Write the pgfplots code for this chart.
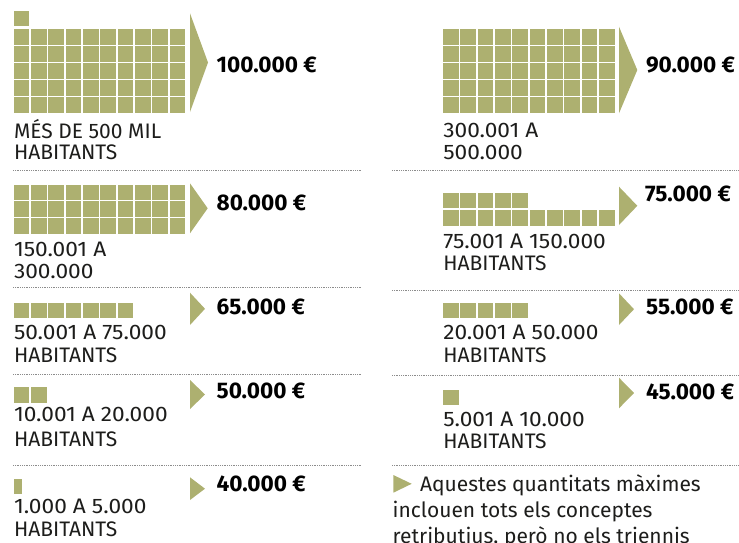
\documentclass[border=0pt]{standalone}
\usepackage{pgfplots}
\pgfplotsset{compat=1.18}
\usepackage{fontspec}
\setmainfont{Fira Sans}
\newfontfamily\widefont[FakeStretch=1.08]{Fira Sans}
\definecolor{olv}{RGB}{173,176,112}
\definecolor{txt}{RGB}{29,29,27}
\definecolor{sep}{RGB}{140,140,140}
\newcommand\lab{\fontsize{21}{25}\selectfont\color{txt}}
\newcommand\labn{\widefont\fontsize{21}{25}\selectfont\color{txt}}
\newcommand\val{\fontsize{22.6}{27}\selectfont\bfseries\color{black}}
\newcommand\foot{\fontsize{21}{26}\selectfont\color{txt}}
\tikzset{lb/.style={inner sep=0pt, outer sep=0pt, anchor=base west}}
\begin{document}
\begin{tikzpicture}
\begin{axis}[
  x=1pt, y=1pt, xmin=0, xmax=739, ymin=0, ymax=542, y dir=reverse,
  hide axis, clip=false, scale only axis,
]
\coordinate (bbA) at (0,0);
\coordinate (bbB) at (739,542);
% ---- unit squares (1 square = 10.000 habitants)
\pgfplotsset{sq/.style={only marks, color=olv, mark=square*, mark size=7.3pt, mark options={solid, draw=olv, fill=olv, line width=0pt}}}
% mes de 500 mil
\addplot[sq] coordinates {
(21.5,18.3)
(21.5,36.8)(38.8,36.8)(56.2,36.8)(73.5,36.8)(90.8,36.8)(108.2,36.8)(125.5,36.8)(142.8,36.8)(160.1,36.8)(177.5,36.8)
(21.5,53.8)(38.8,53.8)(56.2,53.8)(73.5,53.8)(90.8,53.8)(108.2,53.8)(125.5,53.8)(142.8,53.8)(160.1,53.8)(177.5,53.8)
(21.5,70.8)(38.8,70.8)(56.2,70.8)(73.5,70.8)(90.8,70.8)(108.2,70.8)(125.5,70.8)(142.8,70.8)(160.1,70.8)(177.5,70.8)
(21.5,87.8)(38.8,87.8)(56.2,87.8)(73.5,87.8)(90.8,87.8)(108.2,87.8)(125.5,87.8)(142.8,87.8)(160.1,87.8)(177.5,87.8)
(21.5,104.8)(38.8,104.8)(56.2,104.8)(73.5,104.8)(90.8,104.8)(108.2,104.8)(125.5,104.8)(142.8,104.8)(160.1,104.8)(177.5,104.8)
};
% 300.001 a 500.000
\addplot[sq] coordinates {
(450.8,36.8)(468.1,36.8)(485.5,36.8)(502.8,36.8)(520.1,36.8)(537.5,36.8)(554.8,36.8)(572.1,36.8)(589.4,36.8)(606.8,36.8)
(450.8,53.8)(468.1,53.8)(485.5,53.8)(502.8,53.8)(520.1,53.8)(537.5,53.8)(554.8,53.8)(572.1,53.8)(589.4,53.8)(606.8,53.8)
(450.8,70.8)(468.1,70.8)(485.5,70.8)(502.8,70.8)(520.1,70.8)(537.5,70.8)(554.8,70.8)(572.1,70.8)(589.4,70.8)(606.8,70.8)
(450.8,87.8)(468.1,87.8)(485.5,87.8)(502.8,87.8)(520.1,87.8)(537.5,87.8)(554.8,87.8)(572.1,87.8)(589.4,87.8)(606.8,87.8)
(450.8,104.8)(468.1,104.8)(485.5,104.8)(502.8,104.8)(520.1,104.8)(537.5,104.8)(554.8,104.8)(572.1,104.8)(589.4,104.8)(606.8,104.8)
};
% 150.001 a 300.000
\addplot[sq] coordinates {
(21.5,192.5)(38.8,192.5)(56.2,192.5)(73.5,192.5)(90.8,192.5)(108.2,192.5)(125.5,192.5)(142.8,192.5)(160.1,192.5)(177.5,192.5)
(21.5,209.2)(38.8,209.2)(56.2,209.2)(73.5,209.2)(90.8,209.2)(108.2,209.2)(125.5,209.2)(142.8,209.2)(160.1,209.2)(177.5,209.2)
(21.5,225.8)(38.8,225.8)(56.2,225.8)(73.5,225.8)(90.8,225.8)(108.2,225.8)(125.5,225.8)(142.8,225.8)(160.1,225.8)(177.5,225.8)
};
% 75.001 a 150.000
\addplot[sq] coordinates {
(450.8,200.3)(468.1,200.3)(485.5,200.3)(502.8,200.3)(520.1,200.3)
(450.8,218)(468.1,218)(485.5,218)(502.8,218)(520.1,218)(537.5,218)(554.8,218)(572.1,218)(589.4,218)(606.8,218)
};
% 50.001 a 75.000
\addplot[sq] coordinates {
(21.5,310.3)(38.8,310.3)(56.2,310.3)(73.5,310.3)(90.8,310.3)(108.2,310.3)(125.5,310.3)
};
% 20.001 a 50.000
\addplot[sq] coordinates {
(450.8,310.3)(468.1,310.3)(485.5,310.3)(502.8,310.3)(520.1,310.3)
};
% 10.001 a 20.000
\addplot[sq] coordinates {(21.5,394.8)(38.8,394.8)};
% 5.001 a 10.000
\addplot[sq] coordinates {(450.8,397.5)};
% 1.000 a 5.000 (half square)
\addplot[only marks, color=olv, mark=square*, mark size=7.1pt, mark options={solid, draw=olv, fill=olv, line width=0pt, xscale=0.55}] coordinates {(18,486.3)};
% ---- arrows
\pgfplotsset{arr/.style={fill=olv, draw=none, mark=none}}
\addplot[arr] coordinates {(190,13.3) (208,62.5) (190,112)};
\addplot[arr] coordinates {(619,26.7) (637.3,70) (619,113.3)};
\addplot[arr] coordinates {(190,183.3) (207.7,208.3) (190,233.3)};
\addplot[arr] coordinates {(619,186.7) (637.3,205.8) (619,225)};
\addplot[arr] coordinates {(190,292.7) (205,308.8) (190,325)};
\addplot[arr] coordinates {(619,293.3) (634,309.2) (619,325)};
\addplot[arr] coordinates {(190,380) (205,394.5) (190,409)};
\addplot[arr] coordinates {(619,377.7) (634,393) (619,408.3)};
\addplot[arr] coordinates {(190,477.3) (205,488.7) (190,500)};
\addplot[arr] coordinates {(393.3,475) (411.7,483.8) (393.3,492.7)};
% ---- dotted separators
\pgfplotsset{sp/.style={draw=sep, line width=0.9pt, dash pattern=on 0.9pt off 0.9pt, mark=none}}
\addplot[sp] coordinates {(13,170.7) (362,170.7)};
\addplot[sp] coordinates {(392,170.7) (739,170.7)};
\addplot[sp] coordinates {(13,287.5) (362,287.5)};
\addplot[sp] coordinates {(392,290) (739,290)};
\addplot[sp] coordinates {(13,374.3) (362,374.3)};
\addplot[sp] coordinates {(392,375) (739,375)};
\addplot[sp] coordinates {(13,465) (362,465)};
\addplot[sp] coordinates {(392,465.7) (739,465.7)};
% ---- values
\node[lb, font=\val] at (216.7,72.7) {100.000 €};
\node[lb, font=\val] at (646,72.7) {90.000 €};
\node[lb, font=\val] at (216.7,210) {80.000 €};
\node[lb, font=\val] at (645,201.7) {75.000 €};
\node[lb, font=\val] at (216.7,314) {65.000 €};
\node[lb, font=\val] at (646,314) {55.000 €};
\node[lb, font=\val] at (216.7,398.3) {50.000 €};
\node[lb, font=\val] at (646,399.3) {45.000 €};
\node[lb, font=\val] at (216.7,491.7) {40.000 €};
% ---- labels
\node[lb, font=\lab] at (14,138.3) {MÉS DE 500 MIL};
\node[lb, font=\lab] at (14,159.3) {HABITANTS};
\node[lb, font=\labn] at (443.3,137.7) {300.001 A};
\node[lb, font=\labn] at (443.3,159.3) {500.000};
\node[lb, font=\labn] at (14,256.7) {150.001 A};
\node[lb, font=\labn] at (14,278.3) {300.000};
\node[lb, font=\labn] at (443.3,248.3) {75.001 A 150.000};
\node[lb, font=\lab] at (443.3,270) {HABITANTS};
\node[lb, font=\labn] at (14,339.3) {50.001 A 75.000};
\node[lb, font=\lab] at (14,362.7) {HABITANTS};
\node[lb, font=\labn] at (443.3,339.3) {20.001 A 50.000};
\node[lb, font=\lab] at (443.3,362.7) {HABITANTS};
\node[lb, font=\labn] at (14,421.7) {10.001 A 20.000};
\node[lb, font=\lab] at (14,446) {HABITANTS};
\node[lb, font=\labn] at (443.3,426) {5.001 A 10.000};
\node[lb, font=\lab] at (443.3,448.3) {HABITANTS};
\node[lb, font=\labn] at (14,513.3) {1.000 A 5.000};
\node[lb, font=\lab] at (14,536.7) {HABITANTS};
% ---- footnote
\node[lb, font=\foot] at (420,491.7) {Aquestes quantitats màximes};
\node[lb, font=\foot] at (392.7,517.7) {inclouen tots els conceptes};
\node[lb, font=\foot] at (392.7,543.5) {retributius, però no els triennis};
\end{axis}
\pgfresetboundingbox
\path[use as bounding box] (bbA) rectangle (bbB);
\end{tikzpicture}
\end{document}
